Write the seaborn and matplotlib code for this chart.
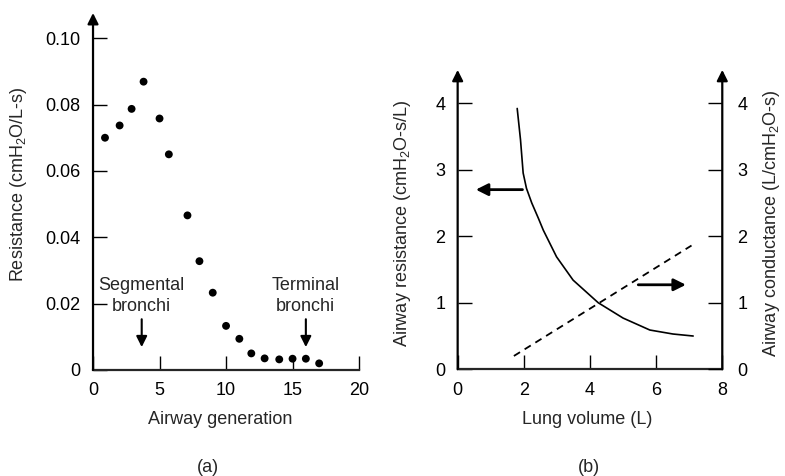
import matplotlib
matplotlib.use("Agg")
import matplotlib.pyplot as plt
import seaborn as sns
import pandas as pd

# (a) resistance per airway generation
generation = [0.9, 2.0, 2.9, 3.8, 5.0, 5.7, 7.1, 8.0, 9.0, 10.0, 11.0, 11.9, 12.9, 14.0, 15.0, 16.0, 17.0]
resistance = [0.0700, 0.0737, 0.0787, 0.0869, 0.0758, 0.0650, 0.0466, 0.0328, 0.0233, 0.0133,
              0.0094, 0.0050, 0.0035, 0.0032, 0.0034, 0.0034, 0.0020]
gen_ticks = [0, 5, 10, 15, 20]
res_ticks = [0, 0.02, 0.04, 0.06, 0.08, 0.10]
res_ticklabels = ["0", "0.02", "0.04", "0.06", "0.08", "0.10"]

# (b) airway resistance and conductance against lung volume
volume_r = [1.80, 1.90, 1.98, 2.08, 2.24, 2.44, 2.59, 2.99, 3.49, 4.25, 5.00, 5.81, 6.51, 7.12]
airway_res = [3.92, 3.45, 2.95, 2.72, 2.50, 2.27, 2.09, 1.69, 1.34, 1.00, 0.77, 0.59, 0.53, 0.50]
volume_g = [1.70, 7.07]
conductance = [0.20, 1.86]
vol_ticks = [0, 2, 4, 6, 8]
b_ticks = [0, 1, 2, 3, 4]

sns.set_style("ticks")
plt.rcParams["font.family"] = ["Liberation Sans", "DejaVu Sans"]
plt.rcParams["mathtext.fontset"] = "custom"
plt.rcParams["mathtext.rm"] = "Liberation Sans"
plt.rcParams["mathtext.it"] = "Liberation Sans:italic"
plt.rcParams["font.size"] = 13

FS = 13
SPINE_W = 1.6

fig = plt.figure(figsize=(7.85, 4.76), dpi=100)
ax1 = fig.add_axes([0.1185, 0.2227, 0.3389, 0.75])
ax2 = fig.add_axes([0.5830, 0.2242, 0.3371, 0.629])
ax3 = ax2.twinx()


def arrow_axis(ax, x):
    ax.annotate("", xy=(x, 1), xytext=(x, 0), xycoords="axes fraction",
                arrowprops=dict(arrowstyle="-|>", lw=SPINE_W, color="black",
                                mutation_scale=16, shrinkA=0, shrinkB=0),
                annotation_clip=False)


def style_axes(ax):
    for s in ["top", "right", "left"]:
        ax.spines[s].set_visible(False)
    ax.spines["bottom"].set_linewidth(SPINE_W)
    ax.tick_params(axis="both", direction="in", length=10, width=1.0,
                   colors="black", labelsize=FS, pad=9)


# ---- panel (a) ----
df_a = pd.DataFrame({"generation": generation, "resistance": resistance})
sns.scatterplot(data=df_a, x="generation", y="resistance", ax=ax1,
                color="black", s=32, edgecolor="none", zorder=3)
ax1.set_xlim(0, 20)
ax1.set_ylim(0, 0.1076)
style_axes(ax1)
arrow_axis(ax1, 0)
ax1.set_xticks(gen_ticks)
ax1.set_yticks(res_ticks)
ax1.set_yticklabels(res_ticklabels)
ax1.set_xlabel("Airway generation", fontsize=FS)
ax1.set_ylabel(r"Resistance (cm$\mathregular{H_2}$O/L-s)", fontsize=FS)
ax1.xaxis.set_label_coords(0.477, -0.115)
ax1.yaxis.set_label_coords(-0.241, 0.52)

for xpos, label in [(3.66, "Segmental\nbronchi"), (16.0, "Terminal\nbronchi")]:
    ax1.text(xpos, 0.0222, label, ha="center", va="center", fontsize=FS,
             linespacing=1.3)
    ax1.annotate("", xy=(xpos, 0.0069), xytext=(xpos, 0.0153),
                 arrowprops=dict(arrowstyle="-|>", lw=1.5, color="black",
                                 mutation_scale=16, shrinkA=0, shrinkB=0))

# ---- panel (b) ----
df_r = pd.DataFrame({"volume": volume_r, "resistance": airway_res})
df_g = pd.DataFrame({"volume": volume_g, "conductance": conductance})
sns.lineplot(data=df_r, x="volume", y="resistance", ax=ax2, color="black",
             lw=1.2, sort=False)
sns.lineplot(data=df_g, x="volume", y="conductance", ax=ax3, color="black",
             lw=1.3, linestyle=(0, (4, 3)))
for ax in (ax2, ax3):
    ax.set_xlim(0, 8)
    ax.set_ylim(0, 4.5)
style_axes(ax2)
style_axes(ax3)
ax3.spines["bottom"].set_visible(False)
arrow_axis(ax2, 0)
arrow_axis(ax3, 1)
ax2.set_xticks(vol_ticks)
ax2.set_yticks(b_ticks)
ax3.set_yticks(b_ticks)
ax3.tick_params(axis="y", pad=11)
ax2.set_xlabel("Lung volume (L)", fontsize=FS)
ax2.set_ylabel(r"Airway resistance (cm$\mathregular{H_2}$O-s/L)", fontsize=FS)
ax3.set_ylabel(r"Airway conductance (L/cm$\mathregular{H_2}$O-s)", fontsize=FS)
ax2.xaxis.set_label_coords(0.489, -0.139)
ax2.yaxis.set_label_coords(-0.169, 0.489)
ax3.yaxis.set_label_coords(1.146, 0.489)

ax2.annotate("", xy=(0.55, 2.70), xytext=(1.96, 2.70),
             arrowprops=dict(arrowstyle="-|>", lw=2.0, color="black",
                             mutation_scale=18, shrinkA=0, shrinkB=0))
ax2.annotate("", xy=(6.9, 1.27), xytext=(5.46, 1.27),
             arrowprops=dict(arrowstyle="-|>", lw=2.0, color="black",
                             mutation_scale=18, shrinkA=0, shrinkB=0))

fig.text(0.265, 0.017, "(a)", ha="center", va="center", fontsize=FS)
fig.text(0.750, 0.017, "(b)", ha="center", va="center", fontsize=FS)

fig.savefig("out.png", dpi=100)
